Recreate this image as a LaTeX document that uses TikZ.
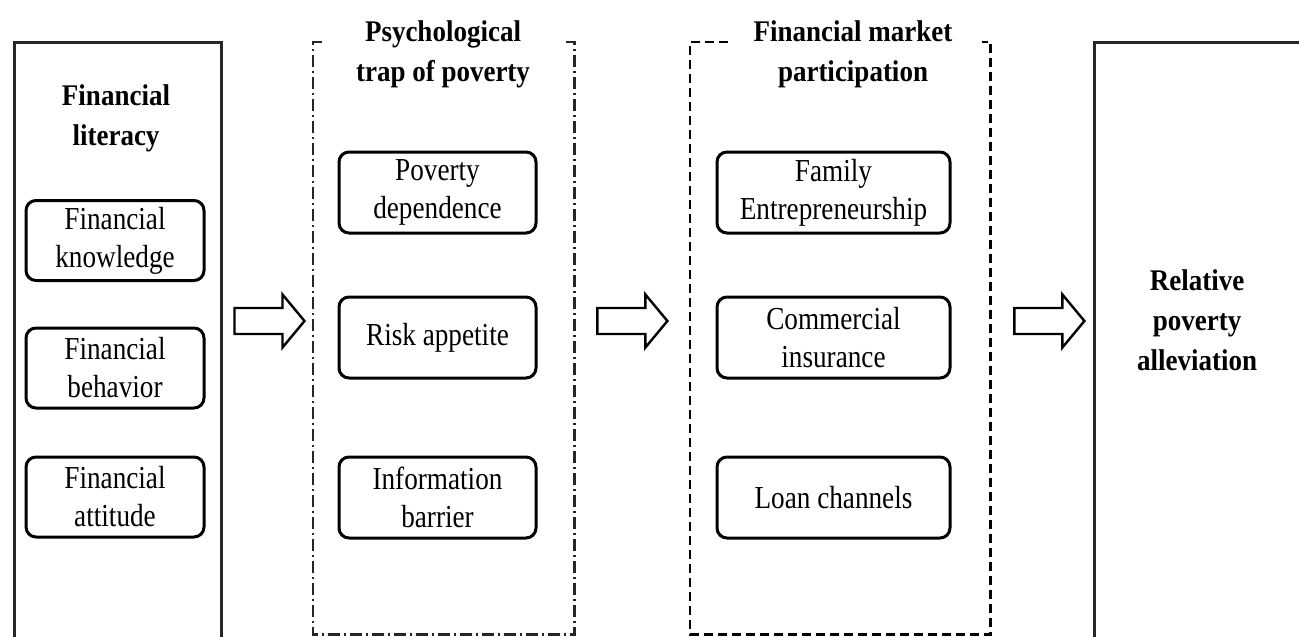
\documentclass[tikz,border=0pt]{standalone}
\usepackage{fontspec}
\setmainfont{Liberation Serif}[FakeStretch=0.85]
\newfontfamily\titlefont{Liberation Serif}[FakeStretch=0.9]
\usetikzlibrary{calc}
\newcommand\blockarr[1]{\draw[barrow] (#1) ++(0,-13) -- ++(48,0) -- ++(0,-13.5) -- ++(22,26.5) -- ++(-22,26.5) -- ++(0,-13.5) -- ++(-48,0) -- cycle;}
\tikzset{
  bigbox/.style={draw=black!85, line width=2.5pt, inner sep=0pt, anchor=north west},
  frame/.style={inner sep=0pt, anchor=north west},
  dashdotline/.style={draw=black!85, line width=2.2pt, dash pattern=on 12pt off 4pt on 2pt off 4pt},
  dashline/.style={line width=2.8pt, dash pattern=on 9pt off 5pt},
  ibox/.style={draw, line width=3pt, rounded corners=10pt, inner sep=0pt, align=center,
    minimum height=80pt, font=\fontsize{32}{38}\selectfont},
  title/.style={align=center, inner sep=0pt, font=\titlefont\bfseries\fontsize{30}{40}\selectfont},
  barrow/.style={draw, line width=2.4pt, fill=white, line join=miter}
}
\begin{document}
\begin{tikzpicture}[x=1pt,y=-1pt]
\useasboundingbox[fill=white] (0,0) rectangle (1299,637);
\clip (0,0) rectangle (1299,637);
% big frames
\node[bigbox, minimum width=207pt, minimum height=600pt] (L) at (13,41) {};
\node[frame, minimum width=261pt, minimum height=592pt] (P) at (313,42) {};
\node[frame, minimum width=300pt, minimum height=592pt] (M) at (690,42) {};
\node[bigbox, minimum width=215pt, minimum height=600pt] (R) at (1093,41) {};
\draw[dashdotline] ($(P.north west)+(9,0)$) -- (P.north west) -- (P.south west) -- (P.south east) -- (P.north east) -- ($(P.north east)+(-8,0)$);
\draw[dashline] ($(M.north west)+(38,0)$) -- (M.north west) -- (M.south west) -- (M.south east) -- (M.north east) -- ($(M.north east)+(-8,0)$);
% titles
\node[title] (LT) at (116,118) {Financial\\literacy};
\node[title] (PT) at (443,54) {Psychological\\trap of poverty};
\node[title] (MT) at (853,54) {Financial market\\participation};
\node[title] (RT) at (1197,320) {Relative\\poverty\\alleviation};
% inner boxes
\node[ibox, minimum width=178pt] (k) at (115,240.5) {Financial\\knowledge};
\node[ibox, minimum width=178pt] (b) at (115,368) {Financial\\behavior};
\node[ibox, minimum width=178pt] (a) at (115,497) {Financial\\attitude};
\node[ibox, minimum width=197pt, minimum height=81pt] (pd) at (437.5,192.5) {Poverty\\dependence};
\node[ibox, minimum width=197pt, minimum height=81pt] (ra) at (437.5,337.5) {Risk appetite};
\node[ibox, minimum width=197pt, minimum height=81pt] (ib) at (437.5,497.5) {Information\\barrier};
\node[ibox, minimum width=233pt, minimum height=81pt] (fe) at (833.5,192.5) {Family\\Entrepreneurship};
\node[ibox, minimum width=233pt, minimum height=81pt] (ci) at (833.5,337.5) {Commercial\\insurance};
\node[ibox, minimum width=233pt, minimum height=81pt] (lc) at (833.5,497.5) {Loan channels};
% block arrows
\coordinate (row) at (0,321);
\coordinate (s1) at ($(L.east|-row)+(12,0)$);
\coordinate (s2) at ($(P.east|-row)+(23,0)$);
\coordinate (s3) at ($(M.east|-row)+(24,0)$);
\blockarr{s1}
\blockarr{s2}
\blockarr{s3}
\end{tikzpicture}
\end{document}
